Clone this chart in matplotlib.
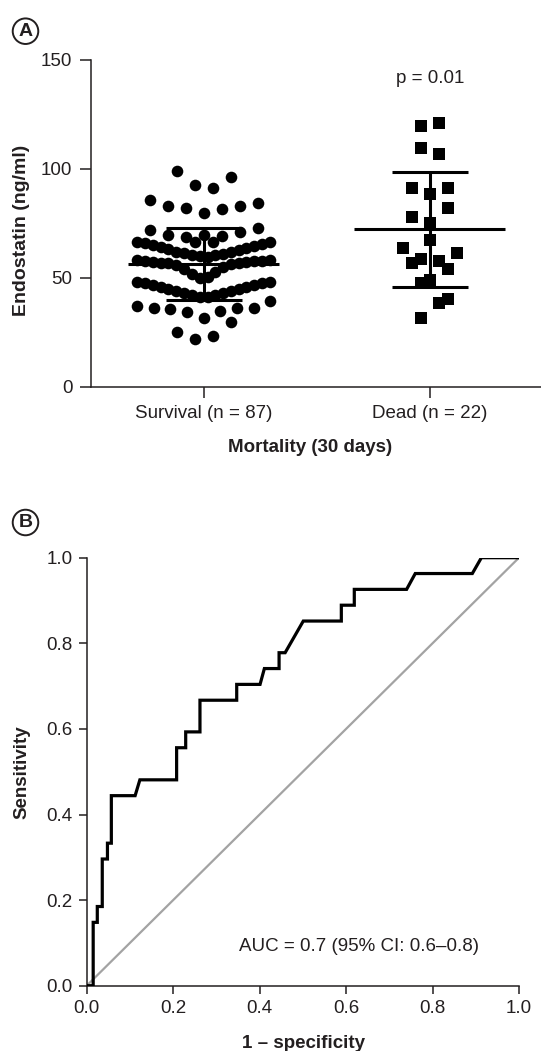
import matplotlib
matplotlib.use('Agg')
import matplotlib.pyplot as plt
import numpy as np

plt.rcParams['font.family'] = ['Liberation Sans', 'DejaVu Sans']

# ---------------- Panel A data ----------------
group_labels = ['Survival (n = 87)', 'Dead (n = 22)']
survival_values = [
    99.0, 92.6, 91.1, 96.1,
    85.7, 83.0, 81.9, 79.6, 81.4, 83.0, 84.5,
    71.9, 69.7, 68.9, 66.6, 69.7, 66.6, 69.2, 71.2, 73.0,
    66.6, 65.8, 65.0, 64.0, 63.0, 62.0, 61.2, 60.5, 59.8,
    59.7, 60.3, 61.0, 61.8, 62.8, 63.8, 64.8, 65.7, 66.5,
    58.2, 57.8, 57.4, 57.0, 56.6, 56.0, 54.0, 51.8, 49.8,
    50.2, 52.5, 55.1, 56.2, 56.7, 57.1, 57.5, 57.9, 58.2,
    48.2, 47.4, 46.6, 45.8, 45.0, 44.0, 43.0, 42.2, 41.4,
    41.3, 42.0, 42.9, 43.8, 44.8, 45.7, 46.6, 47.4, 48.2,
    37.2, 36.3, 35.7, 34.4, 31.7, 34.9, 36.0, 36.3, 39.5,
    29.8,
    25.0, 21.9, 23.4,
]
# horizontal scatter slots (1 slot = spacing of dots in a row)
band_slots = [-7.35, -6.5, -5.6, -4.75, -3.9, -3.05, -2.15, -1.3, -0.45,
              0.45, 1.3, 2.15, 3.05, 3.9, 4.75, 5.6, 6.5, 7.35]
survival_slots = (
    [-3, -1, 1, 3]
    + [-6, -4, -2, 0, 2, 4, 6]
    + [-6, -4, -2, -1, 0, 1, 2, 4, 6]
    + band_slots + band_slots + band_slots
    + [-7.35, -5.55, -3.7, -1.85, 0, 1.85, 3.7, 5.55, 7.35]
    + [3]
    + [-3, -1, 1]
)
dead_values = [119.7, 120.9, 109.5, 106.7, 91.2, 88.5, 91.2, 81.9, 78.1, 75.3,
               67.4, 63.5, 61.5, 56.9, 58.6, 57.9, 53.9, 49.0, 47.5, 40.1,
               38.6, 31.4]
dead_slots = [-1, 1, -1, 1, -2, 0, 2, 2, -2, 0,
              0, -3, 3, -2, -1, 1, 2, 0, -1, 2,
              1, -1]
group_mean = [56.2, 72.3]
group_sd = [16.5, 26.4]
a_yticks = [0, 50, 100, 150]
p_label = 'p = 0.01'

# ---------------- Panel B data ----------------
roc_fpr = [0.0, 0.015, 0.015, 0.0245, 0.0245, 0.036, 0.036, 0.048, 0.048,
           0.057, 0.057, 0.112, 0.123, 0.208, 0.208, 0.229, 0.229, 0.262,
           0.262, 0.347, 0.347, 0.401, 0.411, 0.445, 0.445, 0.459, 0.501,
           0.589, 0.589, 0.619, 0.619, 0.740, 0.760, 0.892, 0.913, 1.0]
roc_tpr = [0.0, 0.0, 0.148, 0.148, 0.185, 0.185, 0.296, 0.296, 0.333,
           0.333, 0.444, 0.444, 0.481, 0.481, 0.556, 0.556, 0.593, 0.593,
           0.667, 0.667, 0.704, 0.704, 0.741, 0.741, 0.778, 0.778, 0.852,
           0.852, 0.889, 0.889, 0.926, 0.926, 0.963, 0.963, 1.0, 1.0]
ref_line = [0.0, 1.0]
b_ticks = [0.0, 0.2, 0.4, 0.6, 0.8, 1.0]
auc_label = 'AUC = 0.7 (95% CI: 0.6\u20130.8)'

TXT = '#231f20'
FS = 13.5
W, H = 541, 1051

fig = plt.figure(figsize=(W / 100, H / 100), dpi=100)


def fx(px):
    return px / W


def fy(py):
    return 1 - py / H


# ---------------- Panel A ----------------
axA = fig.add_axes([fx(90.5), fy(386.7), (543 - 90.5) / W, (386.7 - 60) / H])
axA.set_xlim(-0.5, 1.5)
axA.set_ylim(0, 150)
SLOT = 9.0 / 226.0
axA.scatter(0 + np.array(survival_slots) * SLOT, survival_values, s=70,
            marker='o', color='black', linewidths=0, zorder=3)
axA.scatter(1 + np.array(dead_slots) * SLOT, dead_values, s=74,
            marker='s', color='black', linewidths=0, zorder=3)
for i, (m, sd) in enumerate(zip(group_mean, group_sd)):
    axA.hlines(m, i - 0.334, i + 0.334, color='black', lw=2.2, zorder=4)
    axA.vlines(i, m - sd, m + sd, color='black', lw=2.2, zorder=4)
    axA.hlines([m - sd, m + sd], i - 0.168, i + 0.168, color='black', lw=2.2, zorder=4)

axA.set_yticks(a_yticks)
axA.set_xticks([0, 1])
axA.set_xticklabels(group_labels)
axA.tick_params(length=8, width=1.1, pad=5, labelsize=FS, colors=TXT)
for s in ['top', 'right']:
    axA.spines[s].set_visible(False)
for s in ['left', 'bottom']:
    axA.spines[s].set_linewidth(1.1)
    axA.spines[s].set_color(TXT)
axA.text(1, 141.7, p_label, ha='center', va='center', fontsize=FS, color=TXT)

fig.text(fx(21.7), fy(230), 'Endostatin (ng/ml)', rotation=90, ha='center',
         va='center', fontsize=14, fontweight='bold', color=TXT)
fig.text(fx(310), fy(447), 'Mortality (30 days)', ha='center', va='center',
         fontsize=FS, fontweight='bold', color=TXT)

# ---------------- Panel B ----------------
axB = fig.add_axes([fx(86.7), fy(985.7), (519 - 86.7) / W, (985.7 - 557.7) / H])
axB.set_xlim(0, 1)
axB.set_ylim(0, 1)
axB.plot(ref_line, ref_line, color='#a3a3a3', lw=1.6, zorder=2)
axB.plot(roc_fpr, roc_tpr, color='black', lw=2.3, zorder=3,
         solid_joinstyle='miter')
axB.set_xticks(b_ticks)
axB.set_yticks(b_ticks)
axB.set_xticklabels([f'{t:.1f}' for t in b_ticks])
axB.set_yticklabels([f'{t:.1f}' for t in b_ticks])
axB.tick_params(length=6, width=1.1, pad=4, labelsize=FS, colors=TXT)
for s in ['top', 'right']:
    axB.spines[s].set_visible(False)
for s in ['left', 'bottom']:
    axB.spines[s].set_linewidth(1.1)
    axB.spines[s].set_color(TXT)
for sp in axB.spines.values():
    sp.set_clip_on(False)
axB.text(0.352, 0.091, auc_label, ha='left', va='center', fontsize=FS, color=TXT)

fig.text(fx(22), fy(771.7), 'Sensitivity', rotation=90, ha='center',
         va='center', fontsize=FS, fontweight='bold', color=TXT)
fig.text(fx(303), fy(1043.7), '1 \u2013 specificity', ha='center', va='center',
         fontsize=FS, fontweight='bold', color=TXT)

# panel letters
for letter, cy in [('A', 31.2), ('B', 522.5)]:
    fig.text(fx(25.5), fy(cy), letter, ha='center', va='center', fontsize=14,
             fontweight='bold', color=TXT,
             bbox=dict(boxstyle='circle,pad=0.22', fc='white', ec=TXT, lw=1.4))

fig.savefig('out.png', dpi=100)
